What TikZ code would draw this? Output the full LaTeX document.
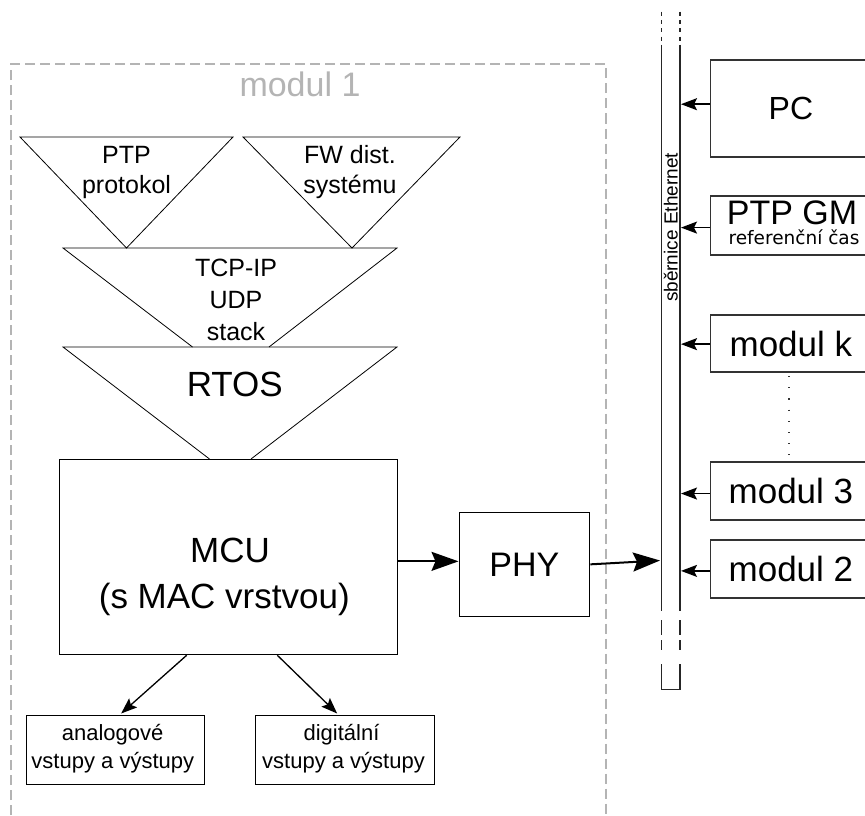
\documentclass[tikz,border=0pt]{standalone}
\usepackage{fontspec}
\setmainfont{Liberation Sans}
\newfontfamily\dejavu{DejaVu Sans}
\usetikzlibrary{arrows.meta,calc}

\newcommand\fsz[1]{\fontsize{#1}{#1}\selectfont}
\definecolor{modgray}{RGB}{180,180,180}

\begin{document}
\begin{tikzpicture}[x=1pt,y=-1pt,
  lbl/.style={inner sep=0pt, anchor=base},
  tri/.style={draw=black, line width=0.8pt, line join=miter},
  blk/.style={draw=black, line width=1.3pt, inner sep=0pt, anchor=north west},
  rbox/.style={draw=black!80, line width=1.8pt, inner sep=0pt, minimum width=161pt, anchor=north west},
  bigarr/.style={line width=2pt, -{Stealth[length=27pt,width=19pt,inset=4pt]}},
  midarr/.style={line width=1.3pt, -{Stealth[length=16pt,width=12pt,inset=3pt]}},
  busarr/.style={line width=1.5pt, -{Stealth[length=16pt,width=12pt,inset=3pt]}},
  busline/.style={draw=black!85, line width=1.5pt},
]
\useasboundingbox (0,0) rectangle (865,816);
\clip (0,0) rectangle (865,816);

% module frame
\draw[modgray, line width=2pt, dash pattern=on 10pt off 5pt]
  (11,830) -- (11,64) -- (605.5,64) -- (605.5,830);
\node[lbl, text=modgray] (modtitle) at (300,96.7) {\fsz{34}modul 1};

% software layers
\draw[tri] (20,137) -- (233,137) -- (126.5,248) -- cycle;
\draw[tri] (243,137) -- (460,137) -- (352,248) -- cycle;
\draw[tri] (192.5,347) -- (63,248) -- (397,248) -- (269,347);
\draw[tri] (209.5,459) -- (63,347) -- (397,347) -- (251,459);

\node[lbl] (ptpa) at (126.5,163.3) {\fsz{25}PTP};
\node[lbl] (ptpb) at (126.5,193.3) {\fsz{25}protokol};
\node[lbl] (fwa) at (350,163.3) {\fsz{25}FW dist.};
\node[lbl] (fwb) at (350,193.3) {\fsz{25}systému};
\node[lbl] (tcpa) at (236,276.7) {\fsz{25}TCP-IP};
\node[lbl] (tcpb) at (236,308.3) {\fsz{25}UDP};
\node[lbl] (tcpc) at (236,340) {\fsz{25}stack};
\node[lbl] (rtos) at (234.8,396.7) {\fsz{35}RTOS};

% hardware
\node[blk, minimum width=338pt, minimum height=195pt] (mcu) at (59,459) {};
\node[lbl] (mcua) at (230,562.7) {\fsz{35}MCU};
\node[lbl] (mcub) at (224.3,608.3) {\fsz{35}(s MAC vrstvou)};

\node[blk, minimum width=130.5pt, minimum height=104pt] (phy) at (458.5,511.7) {\fsz{34}PHY};

\node[blk, minimum width=178pt, minimum height=69pt] (ana) at (25.7,715) {};
\node[lbl] (anaa) at (112.6,740) {\fsz{22}analogové};
\node[lbl] (anab) at (112.8,768.3) {\fsz{22}vstupy a výstupy};

\node[blk, minimum width=179pt, minimum height=69pt] (dig) at (254.5,715) {};
\node[lbl] (diga) at (341.5,740) {\fsz{22}digitální};
\node[lbl] (digb) at (343.5,768.3) {\fsz{22}vstupy a výstupy};

\draw[midarr] ($(mcu.south)+(-42,0)$) -- ($(ana.north)+(5.8,-1.5)$);
\draw[midarr] ($(mcu.south)+(48.7,0)$) -- ($(dig.north)+(-7.5,-1.5)$);

\coordinate (mcuout) at ($(phy.west)+(0,-3)$);
\draw[bigarr] (mcuout -| mcu.east) -- (mcuout);

% Ethernet bus
\coordinate (busL) at (661.7,0);
\coordinate (busR) at (681,0);
\draw[busline] (661.7,45) -- (661.7,610.7);
\draw[busline] (680,45) -- (680,610.7);
\draw[busline, line width=1.3pt, dash pattern=on 4pt off 4.3pt] (661.7,11.7) -- (661.7,45);
\draw[busline, line width=1.3pt, dash pattern=on 4pt off 4.3pt] (680,11.7) -- (680,45);
\draw[busline, dash pattern=on 15pt off 5pt] (661.7,620) -- (661.7,650);
\draw[busline, dash pattern=on 15pt off 5pt] (680,620) -- (680,650);
\draw[busline] (661.7,664) -- (661.7,689.3) -- (680,689.3) -- (680,664);
\node[inner sep=0pt, rotate=90] (buslbl) at (670.8,227.5) {\fsz{19}sběrnice Ethernet};

\coordinate (busin) at (660,560.5);
\draw[bigarr] (phy.east) -- (busin);

% stations on the bus
\node[rbox, minimum height=97pt] (pc) at (709.5,59) {\fsz{32}PC};
\node[rbox, minimum height=59pt] (gm) at (709.5,195) {};
\node[lbl] (gma) at (792,224) {\fsz{34}PTP GM};
\node[lbl] (gmb) at (794,244.3) {\dejavu\fsz{18.5}referenční čas};
\node[rbox, minimum height=56.7pt] (modk) at (709.5,314.3) {\fsz{35}modul k};
\node[rbox, minimum height=58.3pt] (mod3) at (709.5,461) {\fsz{35}modul 3};
\node[rbox, minimum height=58pt] (mod2) at (709.5,539.3) {\fsz{35}modul 2};

\draw[black!80, line width=1.2pt, dash pattern=on 1.2pt off 10pt] (789,376) -- (789,455);

\coordinate (pcA) at ($(pc.west)+(0,-4.2)$);
\coordinate (gmA) at ($(gm.west)+(0,2.2)$);
\coordinate (modkA) at ($(modk.west)+(0,0.6)$);
\coordinate (mod3A) at ($(mod3.west)+(0,2.5)$);
\coordinate (mod2A) at ($(mod2.west)+(0,1.7)$);
\foreach \s in {pcA,gmA,modkA,mod3A,mod2A}
  \draw[busarr] (\s) -- (\s -| busR);
\end{tikzpicture}
\end{document}
